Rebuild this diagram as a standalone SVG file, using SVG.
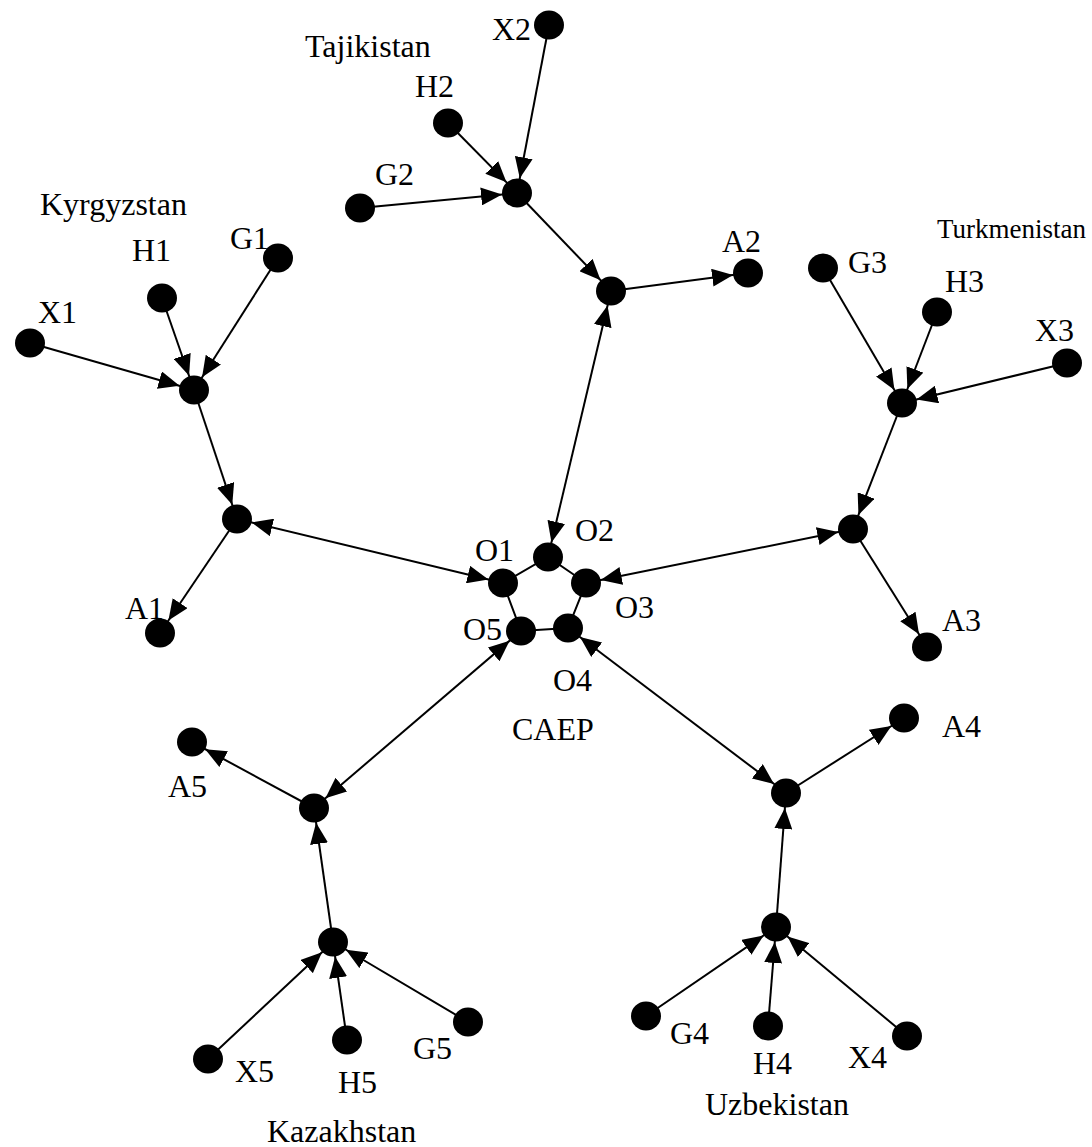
<svg xmlns="http://www.w3.org/2000/svg" width="1092" height="1147" viewBox="0 0 1092 1147">
<style>
.n{fill:#000}
.e{stroke:#000;stroke-width:2;fill:none}
.a{marker-end:url(#ah)}
.b{marker-start:url(#ah);marker-end:url(#ah)}
text{font-family:"Liberation Serif","Times New Roman",serif;font-size:32px;fill:#000}
</style>
<defs>
<marker id="ah" markerUnits="userSpaceOnUse" markerWidth="38" markerHeight="18" refX="36" refY="9" orient="auto-start-reverse">
<path d="M0,0 L21,9 L0,18 Z" fill="#000"/>
</marker>
</defs>
<rect width="1092" height="1147" fill="#fff"/>
<g id="connectors">
<line class="e a" x1="549" y1="25" x2="517" y2="193"/>
<line class="e a" x1="448" y1="123" x2="517" y2="193"/>
<line class="e a" x1="360" y1="208" x2="517" y2="193"/>
<line class="e a" x1="517" y1="193" x2="611" y2="291"/>
<line class="e a" x1="611" y1="291" x2="748" y2="273"/>
<line class="e b" x1="611" y1="291" x2="548" y2="557"/>
<line class="e a" x1="30" y1="343" x2="194" y2="390"/>
<line class="e a" x1="162" y1="298" x2="194" y2="390"/>
<line class="e a" x1="278" y1="258" x2="194" y2="390"/>
<line class="e a" x1="194" y1="390" x2="237" y2="519"/>
<line class="e a" x1="237" y1="519" x2="160" y2="633"/>
<line class="e b" x1="237" y1="519" x2="503" y2="583"/>
<line class="e a" x1="823" y1="268" x2="902" y2="403"/>
<line class="e a" x1="937" y1="312" x2="902" y2="403"/>
<line class="e a" x1="1067" y1="363" x2="902" y2="403"/>
<line class="e a" x1="902" y1="403" x2="853" y2="529"/>
<line class="e a" x1="853" y1="529" x2="927" y2="647"/>
<line class="e b" x1="586" y1="583" x2="853" y2="529"/>
<line class="e a" x1="646" y1="1016" x2="776" y2="927"/>
<line class="e a" x1="768" y1="1026" x2="776" y2="927"/>
<line class="e a" x1="907" y1="1036" x2="776" y2="927"/>
<line class="e a" x1="776" y1="927" x2="786" y2="793"/>
<line class="e a" x1="786" y1="793" x2="904" y2="718"/>
<line class="e b" x1="568" y1="628" x2="786" y2="793"/>
<line class="e a" x1="208" y1="1059" x2="333" y2="942"/>
<line class="e a" x1="347" y1="1040" x2="333" y2="942"/>
<line class="e a" x1="468" y1="1022" x2="333" y2="942"/>
<line class="e a" x1="333" y1="942" x2="314" y2="808"/>
<line class="e a" x1="314" y1="808" x2="192" y2="742"/>
<line class="e b" x1="521" y1="631" x2="314" y2="808"/>
<polygon class="e" points="503,583 548,557 586,583 568,628 521,631"/>
</g>
<g id="tajikistan-label"><text x="305" y="57">Tajikistan</text></g>
<g id="X2"><ellipse class="n" cx="549" cy="25" rx="15" ry="14.5"/><text x="492" y="40">X2</text></g>
<g id="H2"><ellipse class="n" cx="448" cy="123" rx="15" ry="14.5"/><text x="415" y="97">H2</text></g>
<g id="G2"><ellipse class="n" cx="360" cy="208" rx="15" ry="14.5"/><text x="375" y="185">G2</text></g>
<g id="tj-hub"><ellipse class="n" cx="517" cy="193" rx="15" ry="14.5"/></g>
<g id="tj-mid"><ellipse class="n" cx="611" cy="291" rx="15" ry="14.5"/></g>
<g id="A2"><ellipse class="n" cx="748" cy="273" rx="15" ry="14.5"/><text x="722" y="252">A2</text></g>
<g id="kyrgyzstan-label"><text x="40" y="215">Kyrgyzstan</text></g>
<g id="X1"><ellipse class="n" cx="30" cy="343" rx="15" ry="14.5"/><text x="38" y="323">X1</text></g>
<g id="H1"><ellipse class="n" cx="162" cy="298" rx="15" ry="14.5"/><text x="132" y="261">H1</text></g>
<g id="G1"><ellipse class="n" cx="278" cy="258" rx="15" ry="14.5"/><text x="230" y="249">G1</text></g>
<g id="kg-hub"><ellipse class="n" cx="194" cy="390" rx="15" ry="14.5"/></g>
<g id="kg-mid"><ellipse class="n" cx="237" cy="519" rx="15" ry="14.5"/></g>
<g id="A1"><ellipse class="n" cx="160" cy="633" rx="15" ry="14.5"/><text x="125" y="619">A1</text></g>
<g id="turkmenistan-label"><text x="937" y="238" style="font-size:27px">Turkmenistan</text></g>
<g id="G3"><ellipse class="n" cx="823" cy="268" rx="15" ry="14.5"/><text x="848" y="273">G3</text></g>
<g id="H3"><ellipse class="n" cx="937" cy="312" rx="15" ry="14.5"/><text x="945" y="292">H3</text></g>
<g id="X3"><ellipse class="n" cx="1067" cy="363" rx="15" ry="14.5"/><text x="1035" y="341">X3</text></g>
<g id="tm-hub"><ellipse class="n" cx="902" cy="403" rx="15" ry="14.5"/></g>
<g id="tm-mid"><ellipse class="n" cx="853" cy="529" rx="15" ry="14.5"/></g>
<g id="A3"><ellipse class="n" cx="927" cy="647" rx="15" ry="14.5"/><text x="942" y="631">A3</text></g>
<g id="O1"><ellipse class="n" cx="503" cy="583" rx="15" ry="14.5"/><text x="475" y="561">O1</text></g>
<g id="O2"><ellipse class="n" cx="548" cy="557" rx="15" ry="14.5"/><text x="575" y="541">O2</text></g>
<g id="O3"><ellipse class="n" cx="586" cy="583" rx="15" ry="14.5"/><text x="615" y="618">O3</text></g>
<g id="O4"><ellipse class="n" cx="568" cy="628" rx="15" ry="14.5"/><text x="553" y="691">O4</text></g>
<g id="O5"><ellipse class="n" cx="521" cy="631" rx="15" ry="14.5"/><text x="463" y="640">O5</text></g>
<g id="caep-label"><text x="512" y="740">CAEP</text></g>
<g id="A4"><ellipse class="n" cx="904" cy="718" rx="15" ry="14.5"/><text x="942" y="737">A4</text></g>
<g id="uz-mid"><ellipse class="n" cx="786" cy="793" rx="15" ry="14.5"/></g>
<g id="uz-hub"><ellipse class="n" cx="776" cy="927" rx="15" ry="14.5"/></g>
<g id="G4"><ellipse class="n" cx="646" cy="1016" rx="15" ry="14.5"/><text x="670" y="1044">G4</text></g>
<g id="H4"><ellipse class="n" cx="768" cy="1026" rx="15" ry="14.5"/><text x="753" y="1074">H4</text></g>
<g id="X4"><ellipse class="n" cx="907" cy="1036" rx="15" ry="14.5"/><text x="848" y="1068">X4</text></g>
<g id="uzbekistan-label"><text x="705" y="1115">Uzbekistan</text></g>
<g id="A5"><ellipse class="n" cx="192" cy="742" rx="15" ry="14.5"/><text x="168" y="797">A5</text></g>
<g id="kz-mid"><ellipse class="n" cx="314" cy="808" rx="15" ry="14.5"/></g>
<g id="kz-hub"><ellipse class="n" cx="333" cy="942" rx="15" ry="14.5"/></g>
<g id="X5"><ellipse class="n" cx="208" cy="1059" rx="15" ry="14.5"/><text x="235" y="1082">X5</text></g>
<g id="H5"><ellipse class="n" cx="347" cy="1040" rx="15" ry="14.5"/><text x="338" y="1093">H5</text></g>
<g id="G5"><ellipse class="n" cx="468" cy="1022" rx="15" ry="14.5"/><text x="413" y="1059">G5</text></g>
<g id="kazakhstan-label"><text x="267" y="1142">Kazakhstan</text></g>
</svg>
